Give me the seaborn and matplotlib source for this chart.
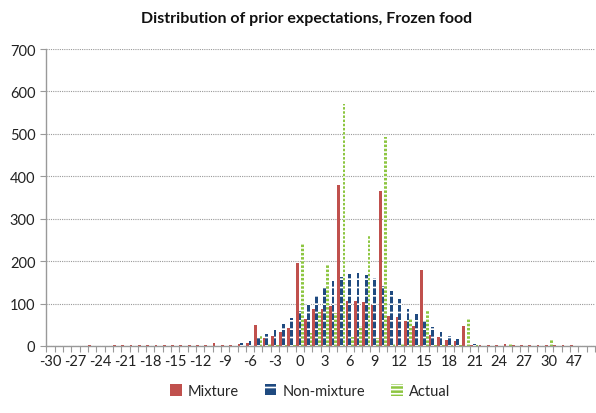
import matplotlib
matplotlib.use("Agg")
import matplotlib.pyplot as plt
import seaborn as sns
import pandas as pd
import numpy as np
from matplotlib.patches import Patch

categories = list(range(-30, 31)) + [35, 40, 47, 50, 60]

mixture = {-25: 2, -22: 2, -21: 2, -20: 2, -19: 2, -18: 2, -17: 2, -16: 2, -15: 2,
           -14: 2, -13: 2, -12: 2, -11: 2, -10: 8, -9: 2, -8: 2, -7: 5, -6: 7,
           -5: 50, -4: 18, -3: 24, -2: 34, -1: 42, 0: 196, 1: 64, 2: 86, 3: 87,
           4: 95, 5: 380, 6: 107, 7: 107, 8: 104, 9: 97, 10: 366, 11: 71, 12: 69,
           13: 58, 14: 48, 15: 178, 16: 25, 17: 20, 18: 15, 19: 12, 20: 46, 21: 3,
           22: 2, 23: 2, 24: 2, 25: 5, 26: 2, 27: 2, 28: 2, 29: 2, 30: 2, 35: 2,
           40: 2, 47: 2}
non_mixture = {-7: 8, -6: 12, -5: 19, -4: 27, -3: 39, -2: 51, -1: 66, 0: 83, 1: 100,
               2: 119, 3: 136, 4: 152, 5: 162, 6: 170, 7: 171, 8: 168, 9: 160,
               10: 142, 11: 130, 12: 111, 13: 86, 14: 75, 15: 60, 16: 44, 17: 34,
               18: 24, 19: 16, 20: 3, 21: 5}
actual = {-5: 23, -4: 5, -3: 3, -2: 3, -1: 3, 0: 240, 1: 30, 2: 80, 3: 193, 4: 78,
          5: 570, 6: 21, 7: 48, 8: 259, 9: 18, 10: 492, 11: 6, 12: 8, 13: 65,
          14: 3, 15: 82, 16: 2, 17: 2, 18: 2, 19: 2, 20: 64, 21: 3, 25: 7, 30: 14}

series_names = ["Mixture", "Non-mixture", "Actual"]
series_data = [mixture, non_mixture, actual]
colors = ["#C0504D", "#1F4A80", "#8DC641"]

rows = []
for name, d in zip(series_names, series_data):
    for c in categories:
        rows.append({"cat": str(c), "series": name, "value": d.get(c, 0)})
df = pd.DataFrame(rows)

sns.set_theme(style="white")
plt.rcParams["font.family"] = ["Lato", "DejaVu Sans"]
plt.rcParams["hatch.linewidth"] = 1.2

fig = plt.figure(figsize=(5.96, 4.14), dpi=100)
ax = fig.add_axes([0.078, 0.162, 0.92, 0.717])

sns.barplot(data=df, x="cat", y="value", hue="series", order=[str(c) for c in categories],
            hue_order=series_names, palette=colors, width=0.98, ax=ax,
            saturation=1, legend=False)

hatches = [None, "--", "----"]
faces = ["#C0504D", "#1F4A80", "#8DC641"]
edges = ["#C0504D", "white", "white"]
for cont, h, fc, ec in zip(ax.containers, hatches, faces, edges):
    for p in cont.patches:
        p.set_facecolor(fc)
        p.set_edgecolor(ec)
        p.set_linewidth(0)
        if h:
            p.set_hatch(h)

n = len(categories)
ax.set_xlim(-0.5, n - 0.5)
ax.set_ylim(0, 700)
ax.set_yticks(range(0, 701, 100))
ax.set_yticklabels([str(v) for v in range(0, 701, 100)], fontsize=10.5, color="#222222")

major = list(range(0, n, 3))
ax.set_xticks(major)
ax.set_xticklabels([str(categories[i]) for i in major], fontsize=10.5, color="#222222")
ax.set_xticks([i - 0.5 for i in range(n + 1)], minor=True)
ax.tick_params(axis="x", which="major", length=0, pad=6)
ax.tick_params(axis="x", which="minor", length=4, color="#999999", width=0.8, direction="out", bottom=True)
ax.tick_params(axis="y", which="major", length=4, color="#999999", width=0.8, direction="out", left=True, pad=4)

ax.set_xlabel("")
ax.set_ylabel("")
ax.yaxis.grid(True, linestyle=(0, (1, 1)), color="#999999", linewidth=0.8)
ax.set_axisbelow(True)
for s in ["top", "right"]:
    ax.spines[s].set_visible(False)
for s in ["left", "bottom"]:
    ax.spines[s].set_color("#999999")
    ax.spines[s].set_linewidth(1.0)

fig.text(0.515, 0.955, "Distribution of prior expectations, Frozen food",
         ha="center", va="center", fontsize=11.5, fontweight="bold", color="#111111")

handles = []
for fc, ec, h in zip(faces, edges, hatches):
    handles.append(Patch(facecolor=fc, edgecolor=ec, hatch=h, linewidth=0))
fig.legend(handles, series_names, loc="center", bbox_to_anchor=(0.52, 0.053), ncol=3,
           frameon=False, fontsize=10.5, handlelength=0.8, handleheight=0.8,
           columnspacing=1.8, handletextpad=0.4)

fig.savefig("out.png", dpi=100)
